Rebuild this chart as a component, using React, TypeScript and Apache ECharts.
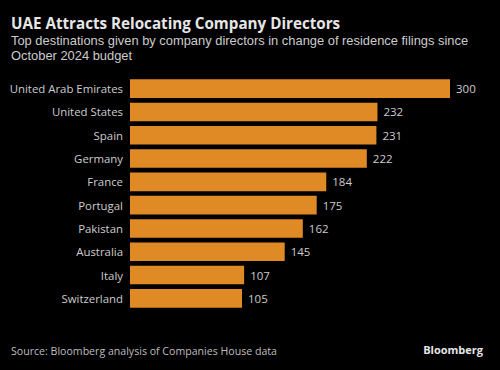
import React, { useEffect, useRef } from "react";
import * as echarts from "echarts";

const categories = [
  "United Arab Emirates",
  "United States",
  "Spain",
  "Germany",
  "France",
  "Portugal",
  "Pakistan",
  "Australia",
  "Italy",
  "Switzerland",
];
const values = [300, 232, 231, 222, 184, 175, 162, 145, 107, 105];

const titleText = "UAE Attracts Relocating Company Directors";
const subtitleLines = [
  "Top destinations given by company directors in change of residence filings since",
  "October 2024 budget",
];
const sourceText = "Source: Bloomberg analysis of Companies House data";
const brandText = "Bloomberg";

const FONT = "'Open Sans', 'DejaVu Sans', sans-serif";
const SUB_FONT = "'Liberation Sans', Arial, sans-serif";

export default function App() {
  const ref = useRef<HTMLDivElement>(null);
  useEffect(() => {
    if (!ref.current) return;
    const chart = echarts.init(ref.current, undefined, { renderer: "svg" });
    chart.setOption({
      animation: false,
      backgroundColor: "#000000",
      textStyle: { fontFamily: FONT },
      grid: { left: 130, right: 50, top: 77, bottom: 60, containLabel: false },
      xAxis: {
        type: "value",
        min: 0,
        max: 300,
        show: false,
      },
      yAxis: {
        type: "category",
        data: categories,
        inverse: true,
        axisLine: { show: false },
        axisTick: { show: false },
        axisLabel: {
          color: "#cccccc",
          fontSize: 11.4,
          margin: 7,
          fontFamily: FONT,
        },
      },
      series: [
        {
          type: "bar",
          data: values,
          barCategoryGap: "20%",
          itemStyle: { color: "#E08A26" },
          label: {
            show: true,
            position: "right",
            distance: 6,
            color: "#cccccc",
            fontSize: 11.5,
            fontFamily: FONT,
          },
        },
      ],
      graphic: [
        {
          type: "text",
          left: 11,
          top: 15,
          style: {
            text: titleText,
            fill: "#e6e6e6",
            font: `bold 15.2px ${FONT}`,
          },
        },
        {
          type: "text",
          left: 11,
          top: 33.5,
          style: {
            text: subtitleLines[0],
            fill: "#cccccc",
            font: `12.9px ${SUB_FONT}`,
            lineHeight: 14.5,
          },
        },
        {
          type: "text",
          left: 11,
          top: 48,
          style: {
            text: subtitleLines[1],
            fill: "#cccccc",
            font: `12.9px ${SUB_FONT}`,
            lineHeight: 14.5,
          },
        },
        {
          type: "text",
          left: 11,
          top: 345,
          style: {
            text: sourceText,
            fill: "#bdbdbd",
            font: `10.6px ${FONT}`,
          },
        },
        {
          type: "text",
          right: 17,
          top: 344,
          style: {
            text: brandText,
            fill: "#e6e6e6",
            font: `bold 11px ${FONT}`,
          },
        },
      ],
    });
    return () => chart.dispose();
  }, []);
  return <div ref={ref} style={{ width: 500, height: 370, position: "absolute", left: 0, top: 0 }} />;
}
